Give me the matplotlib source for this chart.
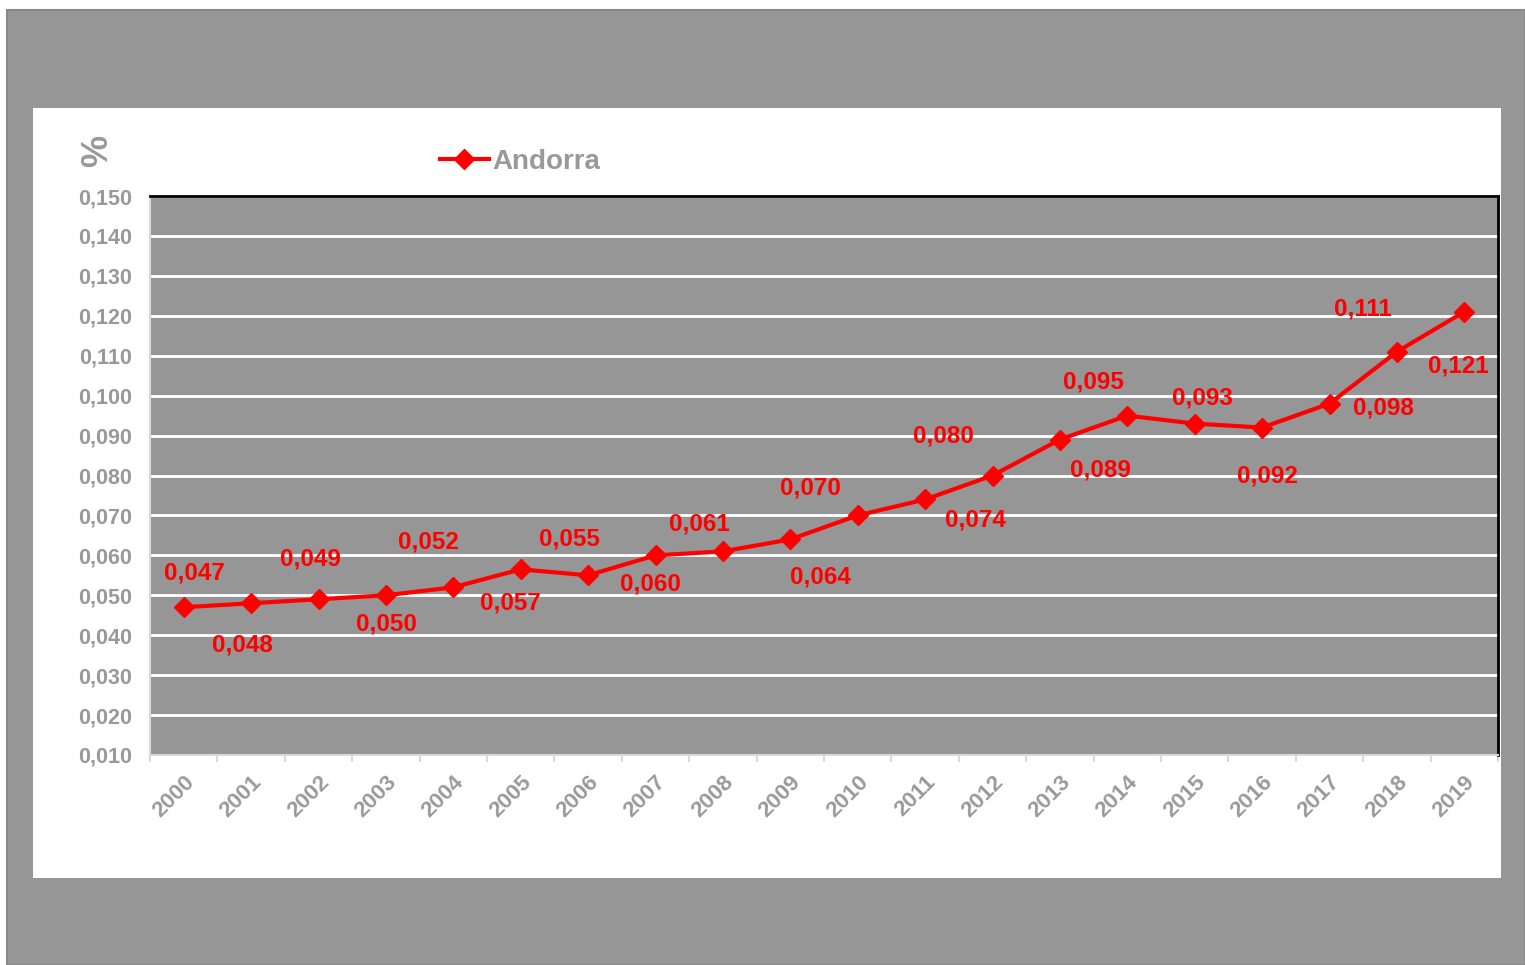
import matplotlib.pyplot as plt
import matplotlib.patches as mpatches
from matplotlib.lines import Line2D
from matplotlib.ticker import FuncFormatter, MultipleLocator
import numpy as np

years = [str(y) for y in range(2000, 2020)]
values = [0.047, 0.048, 0.049, 0.050, 0.052, 0.0565, 0.055, 0.060, 0.061, 0.064,
          0.070, 0.074, 0.080, 0.089, 0.095, 0.093, 0.092, 0.098, 0.111, 0.121]
labels = ["0,047", "0,048", "0,049", "0,050", "0,052", "0,057", "0,055", "0,060", "0,061", "0,064",
          "0,070", "0,074", "0,080", "0,089", "0,095", "0,093", "0,092", "0,098", "0,111", "0,121"]
# label offsets in pixels (dx, dy) relative to each point
label_offsets = [(11, 34), (-9, -42), (-8, 40), (1, -29), (-25, 45), (-10, -34), (-19, 36),
                 (-5, -29), (-24, 27), (30, -38), (-47, 27), (50, -21), (-49, 39), (41, -30),
                 (-34, 34), (8, 26), (5, -48), (54, -4), (-34, 43), (-6, -54)]

GRAY_BG = "#969696"
TXT = "#999999"
RED = "#ff0000"

plt.rcParams["font.family"] = ["Liberation Sans", "DejaVu Sans"]

fig = plt.figure(figsize=(15.25, 9.65), dpi=100)
fig.patch.set_facecolor("white")

# outer gray frame and white inner panel
fig.patches.append(mpatches.Rectangle((7 / 1525, 0), 1 - 7 / 1525, 1 - 10 / 965,
                                      transform=fig.transFigure, facecolor=GRAY_BG,
                                      edgecolor="#888888", linewidth=1.5, zorder=0))
fig.patches.append(mpatches.Rectangle((33 / 1525, (965 - 878) / 965), (1501 - 33) / 1525,
                                      (878 - 108) / 965, transform=fig.transFigure,
                                      facecolor="white", edgecolor="none", zorder=1))

ax = fig.add_axes([150 / 1525, (965 - 755) / 965, (1498 - 150) / 1525, (755 - 196) / 965])
ax.set_facecolor(GRAY_BG)
ax.set_zorder(2)

x = np.arange(len(years))
ax.plot(x, values, color=RED, linewidth=3, marker="D", markersize=10, zorder=3, clip_on=False)

for xi, v, lab, (dx, dy) in zip(x, values, labels, label_offsets):
    ax.annotate(lab, (xi, v), xytext=(dx, dy), textcoords="offset pixels",
                ha="center", va="center", color=RED, fontsize=17.5, fontweight="bold",
                zorder=4)

ax.set_xlim(-0.5, len(years) - 0.5)
ax.set_ylim(0.010, 0.150)
ax.yaxis.set_major_locator(MultipleLocator(0.01))
ax.yaxis.set_major_formatter(FuncFormatter(lambda v, p: f"{v:.3f}".replace(".", ",")))
ax.grid(axis="y", color="white", linewidth=2)
ax.set_axisbelow(True)

ax.set_xticks(x)
ax.set_xticklabels(years, rotation=45, ha="right", rotation_mode="anchor")
ax.set_xticks(np.arange(-0.5, len(years), 1), minor=True)
ax.tick_params(axis="x", which="major", length=0, pad=12, labelsize=16, labelcolor=TXT)
ax.tick_params(axis="x", which="minor", length=5, color="#d9d9d9", width=1.5, direction="out")
ax.tick_params(axis="y", length=0, pad=13, labelsize=15.5, labelcolor=TXT)
for t in ax.get_xticklabels() + ax.get_yticklabels():
    t.set_fontweight("bold")

for side in ["top", "right"]:
    ax.spines[side].set_color("black")
    ax.spines[side].set_linewidth(2)
for side in ["left", "bottom"]:
    ax.spines[side].set_color("#d9d9d9")
    ax.spines[side].set_linewidth(1.5)

# "%" axis label
fig.text(98 / 1525, 1 - 151 / 965, "%", rotation=90, ha="center", va="center",
         color=TXT, fontsize=26, fontweight="bold", zorder=5)

# legend
legend_handle = Line2D([], [], color=RED, linewidth=3, marker="D", markersize=10)
leg = fig.legend(handles=[legend_handle], labels=["Andorra"], loc="center left",
                 bbox_to_anchor=(440 / 1525, 1 - 162 / 965), frameon=False,
                 handlelength=1.75, handletextpad=0.15, borderaxespad=0, borderpad=0,
                 prop={"size": 20, "weight": "bold"})
leg.get_texts()[0].set_color(TXT)

plt.savefig("out.png", dpi=100)
